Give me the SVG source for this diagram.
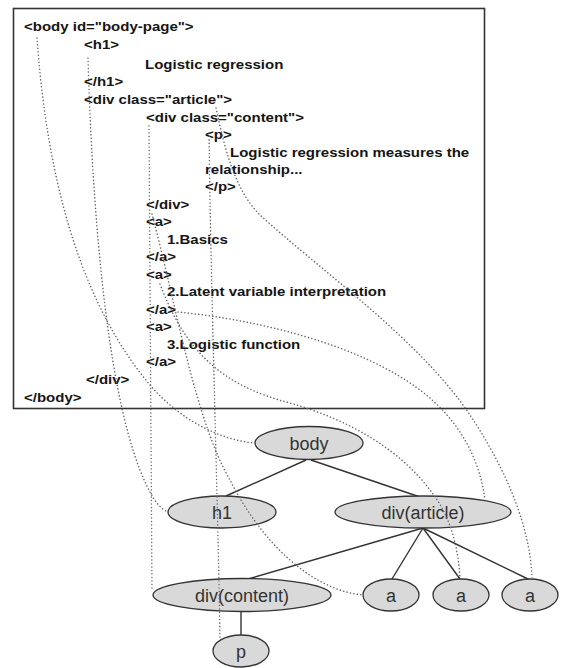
<svg xmlns="http://www.w3.org/2000/svg" width="562" height="668" viewBox="0 0 562 668">
<defs>
<style>
.code{font-family:"Liberation Sans",Arial,sans-serif;font-weight:bold;font-size:12px;fill:#151515}
.node ellipse{fill:#d9d9d9;stroke:#333;stroke-width:1.3}
.node text{font-family:"Liberation Sans",Arial,sans-serif;font-size:18px;fill:#333;text-anchor:middle}
.edge{stroke:#333;stroke-width:1.4;fill:none}
.dot{stroke:#666;stroke-width:1.5;fill:none;stroke-dasharray:0.1 3.4;stroke-linecap:round}
</style>
</defs>
<rect width="562" height="668" fill="#fff"/>
<g id="html-box">
<rect x="13.5" y="8.5" width="471" height="400" fill="#fff" stroke="#333" stroke-width="1.6"/>
<g transform="scale(1.25,1)" class="code">
<text x="19.2" y="31">&lt;body id="body-page"&gt;</text>
<text x="67.2" y="49">&lt;h1&gt;</text>
<text x="116" y="69">Logistic regression</text>
<text x="67.2" y="86">&lt;/h1&gt;</text>
<text x="67.2" y="104">&lt;div class="article"&gt;</text>
<text x="116.8" y="122">&lt;div class="content"&gt;</text>
<text x="164" y="139">&lt;p&gt;</text>
<text x="184" y="157">Logistic regression measures the</text>
<text x="164" y="174">relationship...</text>
<text x="164" y="191">&lt;/p&gt;</text>
<text x="116.8" y="209">&lt;/div&gt;</text>
<text x="116.8" y="226">&lt;a&gt;</text>
<text x="133.6" y="244">1.Basics</text>
<text x="116.8" y="261">&lt;/a&gt;</text>
<text x="116.8" y="279">&lt;a&gt;</text>
<text x="133.6" y="296">2.Latent variable interpretation</text>
<text x="116.8" y="314">&lt;/a&gt;</text>
<text x="116.8" y="331">&lt;a&gt;</text>
<text x="133.6" y="349">3.Logistic function</text>
<text x="116.8" y="366">&lt;/a&gt;</text>
<text x="68.8" y="384">&lt;/div&gt;</text>
<text x="19.2" y="402">&lt;/body&gt;</text>
</g>
</g>
<g id="tree-edges">
<line class="edge" x1="306" y1="460" x2="226" y2="496"/>
<line class="edge" x1="311" y1="460" x2="420" y2="497"/>
<line class="edge" x1="423" y1="528" x2="248" y2="579"/>
<line class="edge" x1="423" y1="528" x2="392" y2="579"/>
<line class="edge" x1="423" y1="528" x2="460" y2="579"/>
<line class="edge" x1="423" y1="528" x2="530" y2="580"/>
<line class="edge" x1="241" y1="612" x2="241" y2="635"/>
</g>
<g id="node-body" class="node"><ellipse cx="309" cy="443" rx="54" ry="16.5"/><text x="309" y="450">body</text></g>
<g id="node-h1" class="node"><ellipse cx="222" cy="512" rx="54" ry="16"/><text x="222" y="519">h1</text></g>
<g id="node-div-article" class="node"><ellipse cx="423" cy="512" rx="88" ry="16"/><text x="423" y="519">div(article)</text></g>
<g id="node-div-content" class="node"><ellipse cx="242" cy="595" rx="89" ry="16.5"/><text x="242" y="602">div(content)</text></g>
<g id="node-a1" class="node"><ellipse cx="391" cy="595" rx="28" ry="16"/><text x="391" y="602">a</text></g>
<g id="node-a2" class="node"><ellipse cx="461" cy="595" rx="28" ry="16"/><text x="461" y="602">a</text></g>
<g id="node-a3" class="node"><ellipse cx="530" cy="595" rx="28" ry="16"/><text x="530" y="602">a</text></g>
<g id="node-p" class="node"><ellipse cx="241" cy="651" rx="28" ry="16"/><text x="241" y="658">p</text></g>
<g id="connectors">
<path class="dot" d="M37,38 C45,150 70,290 150,385 C180,420 220,440 255,443"/>
<path class="dot" d="M88,58 C92,200 105,380 140,470 C150,495 158,508 168,512"/>
<path class="dot" d="M149,126 L152,590"/>
<path class="dot" d="M209,133 C211,300 218,500 220,640"/>
<path class="dot" d="M152,214 C175,300 195,420 230,480 C260,540 310,590 363,595"/>
<path class="dot" d="M160,284 C185,350 220,385 290,403 C350,420 400,450 430,490 C450,515 458,545 460,578"/>
<path class="dot" d="M178,312 C260,320 360,345 420,390 C460,420 480,460 485,500"/>
<path class="dot" d="M216,108 C225,150 235,190 260,215 C320,270 420,340 470,415 C500,460 530,520 532,578"/>
</g>
</svg>
